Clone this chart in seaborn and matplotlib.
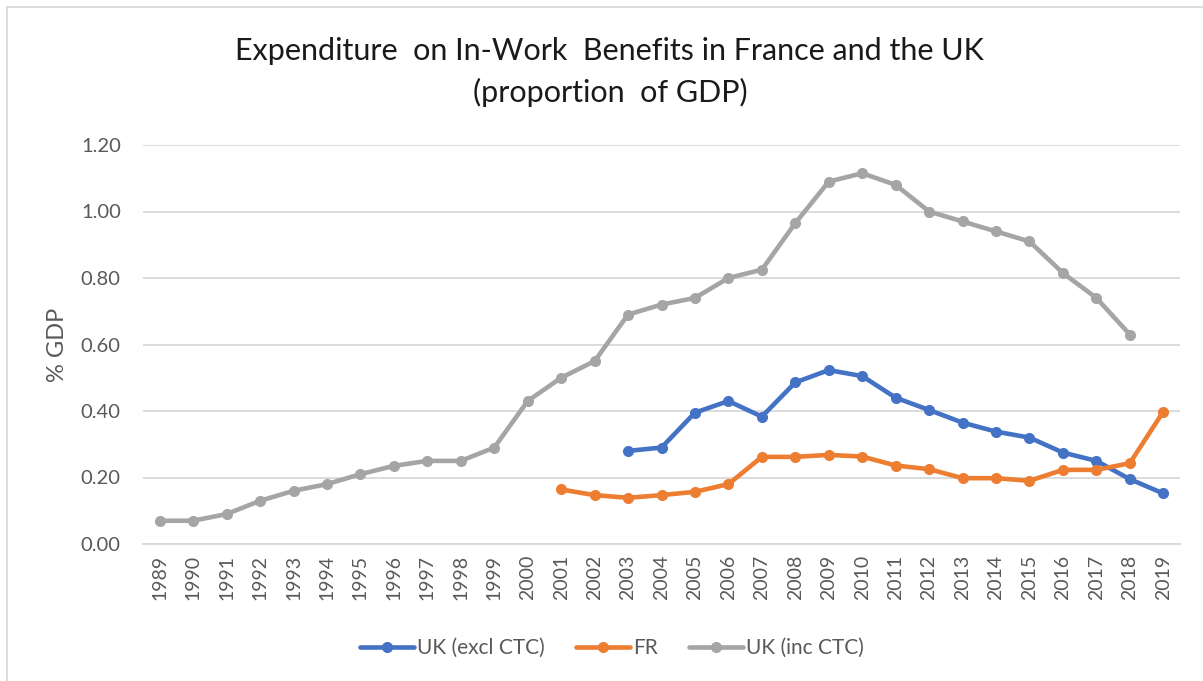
import numpy as np
import pandas as pd
import matplotlib
matplotlib.use("Agg")
import matplotlib.pyplot as plt
from matplotlib.lines import Line2D
import seaborn as sns

years = list(range(1989, 2020))
uk_inc_ctc = [0.07, 0.07, 0.09, 0.13, 0.16, 0.18, 0.21, 0.235, 0.25, 0.25, 0.29,
              0.43, 0.50, 0.55, 0.69, 0.72, 0.74, 0.80, 0.825, 0.965, 1.09, 1.115,
              1.08, 1.00, 0.97, 0.94, 0.91, 0.815, 0.74, 0.63, np.nan]
uk_excl_ctc = [np.nan] * 14 + [0.28, 0.29, 0.395, 0.43, 0.383, 0.486, 0.523, 0.505,
                               0.44, 0.403, 0.365, 0.338, 0.32, 0.275, 0.25, 0.195, 0.152]
fr = [np.nan] * 12 + [0.164, 0.147, 0.139, 0.147, 0.157, 0.18, 0.262, 0.262, 0.268,
                      0.263, 0.236, 0.225, 0.198, 0.198, 0.19, 0.223, 0.223, 0.243, 0.398]
series_names = ["UK (excl CTC)", "FR", "UK (inc CTC)"]
colors = ["#4472C4", "#ED7D31", "#A5A5A5"]
title = "Expenditure  on In-Work  Benefits in France and the UK\n(proportion  of GDP)"
y_label = "% GDP"
y_ticks = [0.0, 0.2, 0.4, 0.6, 0.8, 1.0, 1.2]

df = pd.DataFrame({"year": years, series_names[0]: uk_excl_ctc,
                   series_names[1]: fr, series_names[2]: uk_inc_ctc})
long = df.melt(id_vars="year", var_name="series", value_name="value").dropna()

sns.set_theme(style="white")
plt.rcParams["font.family"] = ["Lato", "DejaVu Sans"]
text_col = "#595959"

fig = plt.figure(figsize=(12.03, 6.81), dpi=100)
ax = fig.add_axes([143 / 1203, 1 - 544 / 681, (1180 - 143) / 1203, (544 - 145) / 681])

sns.lineplot(data=long, x="year", y="value", hue="series", hue_order=series_names,
             palette=colors, marker="o", markersize=8, markeredgewidth=0,
             linewidth=3.3, legend=False, ax=ax, zorder=3)

ax.set_xlim(1988.5, 2019.5)
ax.set_ylim(0, 1.2)
ax.set_yticks(y_ticks)
ax.set_yticklabels([f"{v:.2f}" for v in y_ticks])
ax.set_xticks(years)
ax.set_xticklabels([str(y) for y in years], rotation=90)
ax.grid(axis="y", color="#D9D9D9", linewidth=1.3, zorder=0)
ax.grid(axis="x", visible=False)
for s in ["top", "right", "left"]:
    ax.spines[s].set_visible(False)
ax.spines["bottom"].set_color("#D9D9D9")
ax.spines["bottom"].set_linewidth(1.3)
ax.tick_params(axis="y", length=0, pad=16, labelsize=14.5, labelcolor=text_col)
ax.tick_params(axis="x", length=0, pad=8, labelsize=14, labelcolor=text_col)
ax.set_xlabel("")
ax.set_ylabel(y_label, fontsize=17, color=text_col)
ax.yaxis.set_label_coords(-75 / 1037, 0.5)

fig.text(0.507, 1 - 72 / 681, title, ha="center", va="center", fontsize=22,
         color="#1a1a1a", linespacing=1.55)

handles = [Line2D([0], [0], color=c, linewidth=3.3, marker="o", markersize=8,
                  markeredgewidth=0) for c in colors]
leg = fig.legend(handles, series_names, loc="center", bbox_to_anchor=(612 / 1203, 1 - 648 / 681),
                 ncol=3, frameon=False, fontsize=15, handlelength=2.6,
                 columnspacing=1.5, handletextpad=0.15)
for t in leg.get_texts():
    t.set_color(text_col)

fig.add_artist(Line2D([7 / 1203, 1.0], [1 - 7 / 681, 1 - 7 / 681], color="#D9D9D9", linewidth=1.3))
fig.add_artist(Line2D([7 / 1203, 7 / 1203], [0, 1 - 7 / 681], color="#D9D9D9", linewidth=1.3))

fig.savefig("out.png", dpi=100, facecolor="white")
